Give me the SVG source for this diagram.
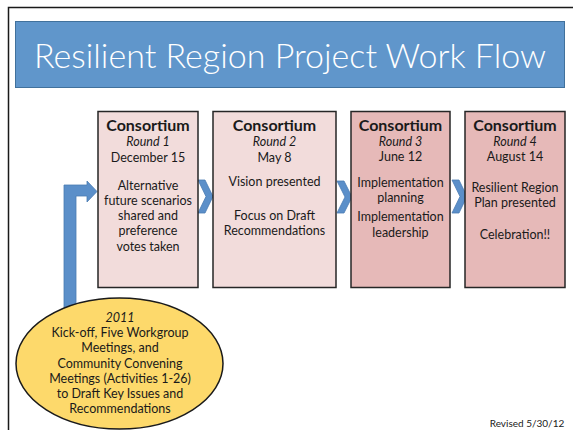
<svg xmlns="http://www.w3.org/2000/svg" width="573" height="430" viewBox="0 0 573 430">
<style>
text{font-family:Lato,"Liberation Sans",sans-serif;fill:#1a1a1a;text-anchor:middle}
.h{font-weight:bold;font-size:16px}
.i{font-style:italic;font-size:12.5px}
.t{font-size:12.5px}
.box{stroke:#262626;stroke-width:1.5}
.light{fill:#f2dcdb}
.dark{fill:#e6b9b8}
.chev{fill:#5b8fc9;stroke:#4a7bb3;stroke-width:0.8}
</style>
<rect x="0" y="0" width="573" height="430" fill="#ffffff"/>
<path d="M8.5 431 V7.5 H574" fill="none" stroke="#1a1a1a" stroke-width="1.5"/>
<g id="title">
<rect x="15.5" y="21.5" width="549" height="66" fill="#6096cb" stroke="#41719c" stroke-width="1"/>
<text x="290" y="68" style="font-size:34px;fill:#ffffff;font-weight:300" textLength="512" lengthAdjust="spacingAndGlyphs">Resilient Region Project Work Flow</text>
</g>
<g id="connectors">
<path class="chev" d="M64 310 V185 H87 V181 L97 191.5 L87 202 V196 H76 V310 Z"/>
<path class="chev" d="M198 180 H205 L213 196.5 L205 213 H198 L206 196.5 Z"/>
<path class="chev" d="M337 181 H344 L352 197 L344 213 H337 L345 197 Z"/>
<path class="chev" d="M452 180 H459 L467 196.5 L459 213 H452 L460 196.5 Z"/>
</g>
<g id="round1">
<rect class="box light" x="98" y="111.5" width="100" height="176"/>
<text class="h" x="148" y="131">Consortium</text>
<text class="i" x="148" y="146">Round 1</text>
<text class="t" x="148" y="162">December 15</text>
<text class="t" x="148" y="190">Alternative</text>
<text class="t" x="148" y="205">future scenarios</text>
<text class="t" x="148" y="220">shared and</text>
<text class="t" x="148" y="235">preference</text>
<text class="t" x="148" y="251">votes taken</text>
</g>
<g id="round2">
<rect class="box light" x="213" y="111.5" width="123" height="176"/>
<text class="h" x="274.5" y="131">Consortium</text>
<text class="i" x="274.5" y="146">Round 2</text>
<text class="t" x="274.5" y="162">May 8</text>
<text class="t" x="274.5" y="186">Vision presented</text>
<text class="t" x="274.5" y="220">Focus on Draft</text>
<text class="t" x="274.5" y="235">Recommendations</text>
</g>
<g id="round3">
<rect class="box dark" x="351" y="111.5" width="99" height="176"/>
<text class="h" x="400.5" y="131">Consortium</text>
<text class="i" x="400.5" y="146">Round 3</text>
<text class="t" x="400.5" y="161">June 12</text>
<text class="t" x="400.5" y="187">Implementation</text>
<text class="t" x="400.5" y="202">planning</text>
<text class="t" x="400.5" y="221">Implementation</text>
<text class="t" x="400.5" y="237">leadership</text>
</g>
<g id="round4">
<rect class="box dark" x="465" y="111.5" width="100" height="176"/>
<text class="h" x="515" y="131">Consortium</text>
<text class="i" x="515" y="146">Round 4</text>
<text class="t" x="515" y="161">August 14</text>
<text class="t" x="515" y="192">Resilient Region</text>
<text class="t" x="515" y="207">Plan presented</text>
<text class="t" x="515" y="239">Celebration!!</text>
</g>
<g id="kickoff">
<ellipse cx="119.5" cy="363.5" rx="103.5" ry="65.5" fill="#fdd96b" stroke="#1a1a1a" stroke-width="1.5"/>
<text class="i" x="120" y="322">2011</text>
<text class="t" x="120" y="337">Kick-off, Five Workgroup</text>
<text class="t" x="120" y="352">Meetings, and</text>
<text class="t" x="120" y="368">Community Convening</text>
<text class="t" x="120" y="383">Meetings (Activities 1-26)</text>
<text class="t" x="120" y="398">to Draft Key Issues and</text>
<text class="t" x="120" y="413">Recommendations</text>
</g>
<text x="527" y="427" style="font-size:10px">Revised 5/30/12</text>
</svg>
